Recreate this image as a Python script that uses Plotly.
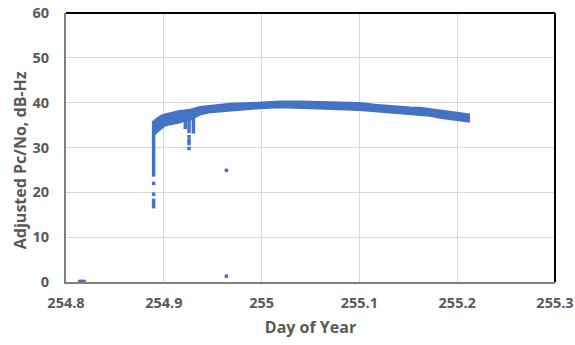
import plotly.graph_objects as go

BLUE = "#4472C4"
GRAY_TXT = "#595959"
FONT = "Open Sans"

# Main signal band: day-of-year with upper and lower edge of the Pc/No trace
band_day = [254.890, 254.892, 254.896, 254.901, 254.906, 254.916, 254.921, 254.927,
            254.937, 254.947, 254.957, 254.968, 254.983, 254.998, 255.019, 255.039,
            255.060, 255.080, 255.100, 255.116, 255.131, 255.141, 255.152, 255.162,
            255.172, 255.182, 255.193, 255.203, 255.213]
band_upper = [36.0, 36.3, 37.0, 37.4, 37.7, 38.2, 38.3, 38.5,
              39.1, 39.3, 39.6, 39.8, 39.9, 40.1, 40.3, 40.3,
              40.2, 40.1, 40.0, 39.6, 39.3, 39.2, 39.0, 38.9,
              38.6, 38.3, 37.9, 37.7, 37.4]
band_lower = [32.7, 33.2, 33.9, 34.8, 35.1, 35.5, 35.9, 36.1,
              37.3, 37.8, 38.0, 38.2, 38.4, 38.7, 38.9, 38.8,
              38.7, 38.5, 38.3, 38.0, 37.8, 37.7, 37.4, 37.2,
              37.0, 36.6, 36.3, 36.0, 35.7]

# Acquisition / fade columns: day, top value, bottom value
dip_day = [254.8896, 254.9220, 254.9258, 254.9303]
dip_top = [36.0, 37.0, 37.0, 37.0]
dip_bottom = [23.5, 34.1, 33.2, 33.1]

# Sparse individual samples
pt_day = [254.8896, 254.8896, 254.8896, 254.8896, 254.8896,
          254.9258, 254.9258, 254.9258, 254.9258,
          254.9640, 254.9640,
          254.8140, 254.8155, 254.8170, 254.8185]
pt_val = [22.0, 19.6, 18.2, 17.5, 16.8,
          32.4, 31.6, 30.9, 29.8,
          24.9, 1.3,
          0.1, 0.1, 0.1, 0.1]

x_ticks = [254.8, 254.9, 255.0, 255.1, 255.2, 255.3]
x_tick_text = ["254.8", "254.9", "255", "255.1", "255.2", "255.3"]
y_ticks = [0, 10, 20, 30, 40, 50, 60]
y_tick_text = ["0", "10", "20", "30", "40", "50", "60"]

fig = go.Figure()

# lower edge then upper edge filled together
fig.add_trace(go.Scatter(x=band_day, y=band_lower, mode="lines",
                         line=dict(color=BLUE, width=1.5), showlegend=False,
                         hoverinfo="skip"))
fig.add_trace(go.Scatter(x=band_day, y=band_upper, mode="lines",
                         line=dict(color=BLUE, width=1.5), fill="tonexty",
                         fillcolor=BLUE, showlegend=False))

# vertical dip columns
dx, dy = [], []
for d, t, b in zip(dip_day, dip_top, dip_bottom):
    dx += [d, d, None]
    dy += [t, b, None]
fig.add_trace(go.Scatter(x=dx, y=dy, mode="lines",
                         line=dict(color=BLUE, width=3.5), showlegend=False))

fig.add_trace(go.Scatter(x=pt_day, y=pt_val, mode="markers",
                         marker=dict(color=BLUE, size=3.5, symbol="square",
                                     line=dict(width=0)),
                         showlegend=False))

axis_common = dict(
    showgrid=True, gridcolor="#D9D9D9", gridwidth=1,
    showline=True, linecolor="#7F7F7F", linewidth=2,
    zeroline=False, ticks="", automargin=False,
    tickfont=dict(family=FONT, size=14.5, color=GRAY_TXT),
)

fig.update_xaxes(range=[254.8, 255.3], tickvals=x_ticks,
                 ticktext=[f"<b>{t}</b>" for t in x_tick_text],
                 ticklabelstandoff=7,
                 title=dict(text="<b>Day of Year</b>", standoff=10,
                            font=dict(family=FONT, size=16, color=GRAY_TXT)),
                 **axis_common)
fig.update_yaxes(range=[0, 60], tickvals=y_ticks,
                 ticktext=[f"<b>{t}</b>" for t in y_tick_text],
                 ticklabelstandoff=12, **axis_common)

fig.add_annotation(text="<b>Adjusted Pc/No, dB-Hz</b>", textangle=-90,
                   xref="paper", yref="paper", x=-0.094, y=0.453,
                   xanchor="center", yanchor="middle", showarrow=False,
                   font=dict(family=FONT, size=16, color=GRAY_TXT))

# dark frame on the top and right sides of the plot area
fig.add_shape(type="line", xref="paper", yref="paper", x0=0, x1=1, y0=1, y1=1,
              line=dict(color="#000000", width=2))
fig.add_shape(type="line", xref="paper", yref="paper", x0=1, x1=1, y0=0, y1=1,
              line=dict(color="#000000", width=2))

fig.update_layout(
    width=575, height=345,
    margin=dict(l=66, r=20, t=13, b=63),
    paper_bgcolor="white", plot_bgcolor="white",
)

fig.write_html("out.html")
